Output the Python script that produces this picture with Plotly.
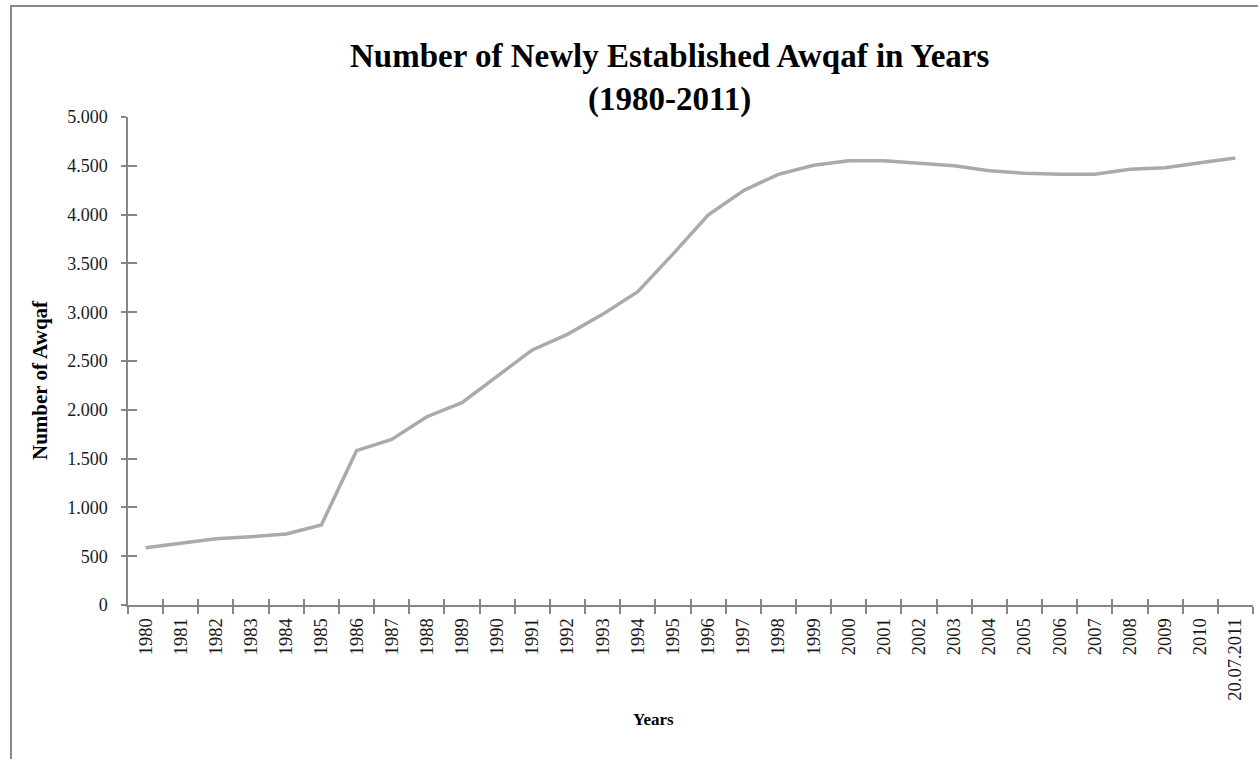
import plotly.graph_objects as go

years = [str(y) for y in range(1980, 2011)] + ["20.07.2011"]
awqaf = [587, 632, 679, 700, 727, 820, 1581, 1697, 1929, 2073,
         2346, 2613, 2773, 2978, 3210, 3595, 3996, 4245, 4413, 4505,
         4552, 4552, 4525, 4501, 4450, 4423, 4413, 4413, 4464, 4481,
         4532, 4580]

title_text = "Number of Newly Established Awqaf in Years<br>(1980-2011)"
y_title = "Number of Awqaf"
x_title = "Years"

FONT = "Liberation Serif"
AXC = "#868686"

fig = go.Figure()
fig.add_trace(go.Scatter(x=years, y=awqaf, mode="lines",
                         line=dict(color="#AAAAAA", width=3.5),
                         showlegend=False, hoverinfo="x+y"))
# invisible twin used to draw the inner half of the cross tick marks
fig.add_trace(go.Scatter(x=years, y=awqaf, mode="lines", xaxis="x2", yaxis="y2",
                         line=dict(color="rgba(0,0,0,0)", width=0),
                         showlegend=False, hoverinfo="skip"))

L, R, T, B = 128, 5, 117, 154
W, H = 1258, 759
pw, ph = W - L - R, H - T - B

fig.update_layout(
    width=W, height=H,
    margin=dict(l=L, r=R, t=T, b=B, pad=0),
    paper_bgcolor="white", plot_bgcolor="white",
    separators=",.",
    font=dict(family=FONT, color="#1a1a1a", size=18),
    xaxis=dict(type="category", showgrid=False, zeroline=False,
               showline=True, linecolor=AXC, linewidth=1.5,
               ticks="outside", ticklen=7, tickcolor=AXC, tickwidth=1.5,
               tickson="boundaries", tickangle=-90, ticklabelstandoff=4,
               tickfont=dict(family=FONT, size=18.5, color="#1a1a1a"),
               range=[-0.5, len(years) - 0.5]),
    xaxis2=dict(type="category", overlaying="x", side="bottom", showgrid=False,
                zeroline=False, showline=False, showticklabels=False,
                ticks="inside", ticklen=6, tickcolor=AXC, tickwidth=1.5,
                tickson="boundaries", range=[-0.5, len(years) - 0.5]),
    yaxis=dict(range=[0, 5000], dtick=500, tickformat=",d", showgrid=False,
               zeroline=False, showline=True, linecolor=AXC, linewidth=1.5,
               ticks="outside", ticklen=5, tickcolor=AXC, tickwidth=1.5,
               ticklabelstandoff=10,
               tickfont=dict(family=FONT, size=18, color="#1a1a1a")),
    yaxis2=dict(range=[0, 5000], dtick=500, overlaying="y", side="left",
                showgrid=False, zeroline=False, showline=False,
                showticklabels=False, ticks="inside", ticklen=9,
                tickcolor=AXC, tickwidth=1.5),
)

# chart title
fig.add_annotation(text="<b>" + title_text + "</b>", xref="paper", yref="paper",
                   x=(669 - L) / pw, y=(H - B - 78) / ph, xanchor="center",
                   yanchor="middle", showarrow=False,
                   font=dict(family=FONT, size=33, color="black"))
# axis titles
fig.add_annotation(text="<b>" + y_title + "</b>", xref="paper", yref="paper",
                   x=(40 - L) / pw, y=(H - B - 380) / ph, showarrow=False,
                   xanchor="center", yanchor="middle",
                   textangle=-90, font=dict(family=FONT, size=21, color="black"))
fig.add_annotation(text="<b>" + x_title + "</b>", xref="paper", yref="paper",
                   x=(653 - L) / pw, y=(H - B - 719) / ph, showarrow=False,
                   xanchor="center", yanchor="middle",
                   font=dict(family=FONT, size=17, color="black"))

# outer chart border
fig.add_shape(type="rect", xref="paper", yref="paper",
              x0=(11 - L) / pw, x1=(W + 10 - L) / pw,
              y0=(H - B - (H + 10)) / ph, y1=(H - B - 6) / ph,
              line=dict(color="#888888", width=2), fillcolor="rgba(0,0,0,0)",
              layer="below")

fig.write_html("out.html")
